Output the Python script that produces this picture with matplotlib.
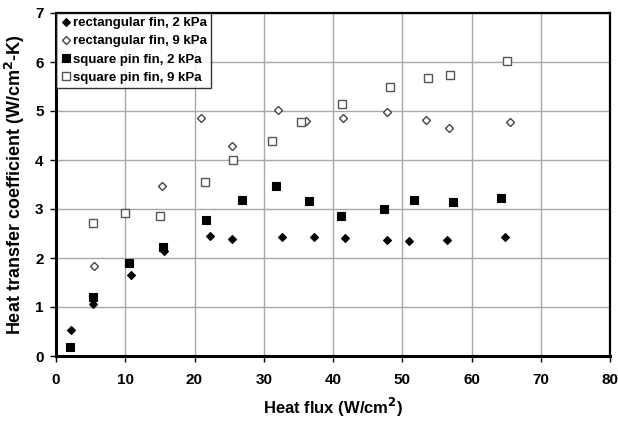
import matplotlib
matplotlib.use("Agg")
import matplotlib.pyplot as plt

plt.rcParams['font.family'] = ['Liberation Sans', 'DejaVu Sans']

rect2_x = [2.1, 5.4, 10.9, 15.6, 22.2, 25.4, 32.6, 37.2, 41.7, 47.8, 51.0, 56.5, 64.9]
rect2_y = [0.53, 1.06, 1.65, 2.14, 2.45, 2.38, 2.42, 2.43, 2.40, 2.37, 2.34, 2.37, 2.42]
rect9_x = [5.5, 15.3, 21.0, 25.4, 32.0, 36.1, 41.4, 47.8, 53.5, 56.7, 65.5]
rect9_y = [1.84, 3.46, 4.85, 4.29, 5.03, 4.79, 4.86, 4.97, 4.82, 4.66, 4.78]
sq2_x = [2.0, 5.4, 10.6, 15.5, 21.6, 26.8, 31.7, 36.6, 41.1, 47.4, 51.7, 57.4, 64.3]
sq2_y = [0.19, 1.20, 1.89, 2.22, 2.78, 3.18, 3.46, 3.16, 2.86, 3.01, 3.18, 3.15, 3.23]
sq9_x = [5.4, 10.0, 15.05, 21.5, 25.6, 31.2, 35.4, 41.3, 48.3, 53.7, 56.9, 65.1]
sq9_y = [2.72, 2.92, 2.86, 3.55, 3.99, 4.39, 4.78, 5.14, 5.49, 5.67, 5.74, 6.02]

labels = ["rectangular fin, 2 kPa", "rectangular fin, 9 kPa",
          "square pin fin, 2 kPa", "square pin fin, 9 kPa"]
x_ticks = [0, 10, 20, 30, 40, 50, 60, 70, 80]
y_ticks = [0, 1, 2, 3, 4, 5, 6, 7]

fig = plt.figure(figsize=(6.18, 4.23), dpi=100)
ax = fig.add_axes([56/618, 1-356/423, (610-56)/618, (356-13)/423])

ax.plot(rect2_x, rect2_y, linestyle='none', marker='D', ms=4.2,
        mfc='black', mec='black', mew=0.8, label=labels[0], zorder=3)
ax.plot(rect9_x, rect9_y, linestyle='none', marker='D', ms=4.4,
        mfc='white', mec='#444444', mew=1.0, label=labels[1], zorder=3)
ax.plot(sq2_x, sq2_y, linestyle='none', marker='s', ms=6.2,
        mfc='black', mec='black', mew=0.8, label=labels[2], zorder=3)
ax.plot(sq9_x, sq9_y, linestyle='none', marker='s', ms=6.4,
        mfc='white', mec='#555555', mew=1.0, label=labels[3], zorder=3)

ax.set_xlim(0, 80)
ax.set_ylim(0, 7)
ax.set_xticks(x_ticks)
ax.set_yticks(y_ticks)
ax.grid(True, color='#a8a8a8', linewidth=1.0)
ax.set_axisbelow(True)
for s in ax.spines.values():
    s.set_color('black')
    s.set_linewidth(1.6)
ax.spines['left'].set_linewidth(2.2)
ax.spines['bottom'].set_linewidth(2.2)
ax.tick_params(axis='both', direction='out', length=4, width=1, labelsize=11)
for lab in ax.get_xticklabels() + ax.get_yticklabels():
    lab.set_fontweight('bold')
ax.tick_params(axis='x', pad=8)
ax.tick_params(axis='y', pad=5)

ax.set_xlabel('Heat flux (W/cm$^\\mathbf{2}$)', fontsize=12, fontweight='bold', labelpad=7)
ax.set_ylabel('Heat transfer coefficient (W/cm$^\\mathbf{2}$-K)', fontsize=13, fontweight='bold', labelpad=6)

leg = ax.legend(loc='upper left', prop={'weight': 'bold', 'size': 9.5},
                frameon=True, fancybox=False, edgecolor='black',
                borderaxespad=0.0, handletextpad=0.1, handlelength=0.9,
                labelspacing=0.45, borderpad=0.3)
leg.get_frame().set_linewidth(1.0)

fig.savefig('out.png', dpi=100)
